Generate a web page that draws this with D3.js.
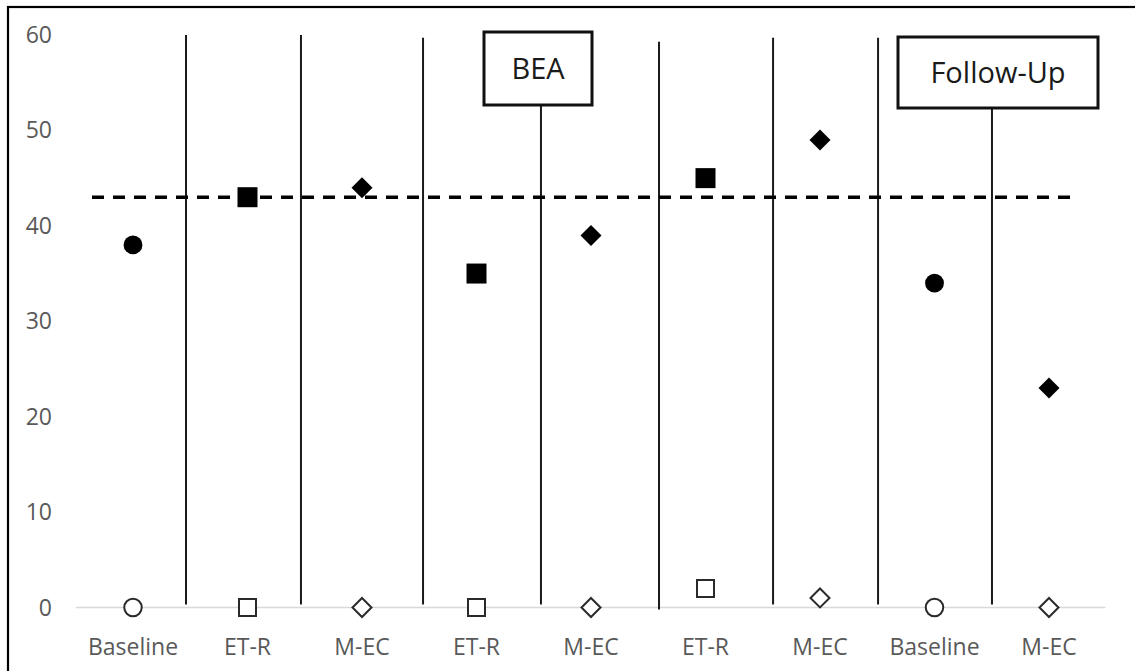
<!DOCTYPE html>
<html>
<head>
<meta charset="utf-8">
<script src="https://cdn.jsdelivr.net/npm/d3@7"></script>
<style>
  html, body { margin: 0; padding: 0; background: #fff; }
  svg { display: block; }
</style>
</head>
<body>
<svg id="chart" width="1135" height="671"></svg>
<script>
// ---- data ----
const categories = ["Baseline", "ET-R", "M-EC", "ET-R", "M-EC", "ET-R", "M-EC", "Baseline", "M-EC"];
const markerShapes = ["circle", "square", "diamond", "square", "diamond", "square", "diamond", "circle", "diamond"];
const filledValues = [38, 43, 44, 35, 39, 45, 49, 34, 23];
const openValues = [0, 0, 0, 0, 0, 2, 1, 0, 0];
const yTicks = [0, 10, 20, 30, 40, 50, 60];
const criterionValue = 43;
// phase-change lines: position in category units, top value
const phaseLinePos = [0.463, 1.467, 2.533, 3.563, 4.594, 5.59, 6.507, 7.502];
const phaseLineTop = [60, 60, 59.7, null, 59.3, 59.7, 59.7, null];
const phaseLabels = ["BEA", "Follow-Up"];

// ---- scales ----
const svg = d3.select("#chart");
const x = d3.scaleLinear().domain([0, categories.length - 1]).range([133, 1049]);
const step = x(1) - x(0);
const y = d3.scaleLinear().domain([0, 60]).range([607.5, 35]);

const font = "'Open Sans', 'Noto Sans', sans-serif";

// outer frame
svg.append("rect").attr("x", 8).attr("y", 7).attr("width", 1200).attr("height", 800)
  .attr("fill", "none").attr("stroke", "#000").attr("stroke-width", 2.2);

// y tick labels
svg.append("g").selectAll("text").data(yTicks).join("text")
  .attr("x", 52).attr("y", d => y(d)).attr("dy", "0.35em")
  .attr("text-anchor", "end").attr("font-family", font).attr("font-size", 23)
  .attr("fill", "#595959").text(d => d);

// x axis line
svg.append("line").attr("x1", x(0) - step / 2).attr("x2", x(categories.length - 1) + step / 2 - 1)
  .attr("y1", y(0)).attr("y2", y(0)).attr("stroke", "#d9d9d9").attr("stroke-width", 1.5);

// x labels
svg.append("g").selectAll("text").data(categories).join("text")
  .attr("x", (d, i) => x(i)).attr("y", 655)
  .attr("text-anchor", "middle").attr("font-family", font).attr("font-size", 23)
  .attr("fill", "#595959").text(d => d);

// boxes
const boxes = [
  { label: phaseLabels[0], x0: 484, x1: 592, y0: 32, y1: 105 },
  { label: phaseLabels[1], x0: 898, x1: 1098, y0: 37, y1: 108 }
];

// phase lines
svg.append("g").selectAll("line").data(phaseLinePos).join("line")
  .attr("x1", d => x(d)).attr("x2", d => x(d))
  .attr("y1", (d, i) => phaseLineTop[i] === null ? (i === 3 ? boxes[0].y1 : boxes[1].y1) : y(phaseLineTop[i]))
  .attr("y2", (d, i) => i === 4 ? y(0) + 2 : y(0) - 3)
  .attr("stroke", "#1a1a1a").attr("stroke-width", 2);

// dashed criterion line
svg.append("line").attr("x1", 92).attr("x2", 1072)
  .attr("y1", y(criterionValue)).attr("y2", y(criterionValue))
  .attr("stroke", "#000").attr("stroke-width", 3.5).attr("stroke-dasharray", "12,9");

const g = svg.append("g");
boxes.forEach(b => {
  g.append("rect").attr("x", b.x0).attr("y", b.y0).attr("width", b.x1 - b.x0).attr("height", b.y1 - b.y0)
    .attr("fill", "#fff").attr("stroke", "#111").attr("stroke-width", 3);
  g.append("text").attr("x", (b.x0 + b.x1) / 2).attr("y", (b.y0 + b.y1) / 2).attr("dy", "0.36em")
    .attr("text-anchor", "middle").attr("font-family", font).attr("font-size", 29)
    .attr("fill", "#1a1a1a").text(b.label);
});

// markers
function symbolFor(shape, filled) {
  if (shape === "circle") return d3.symbol(d3.symbolCircle, filled ? 280 : 240)();
  if (shape === "square") return d3.symbol(d3.symbolSquare, filled ? 400 : 289)();
  const h = filled ? 10.5 : 9.5;
  return `M0,${-h}L${h},0L0,${h}L${-h},0Z`;
}

svg.append("g").selectAll("path").data(openValues).join("path")
  .attr("transform", (d, i) => `translate(${x(i)},${y(d)})`)
  .attr("d", (d, i) => symbolFor(markerShapes[i], false))
  .attr("fill", "#fff").attr("stroke", "#2a2a2a").attr("stroke-width", 2);

svg.append("g").selectAll("path").data(filledValues).join("path")
  .attr("transform", (d, i) => `translate(${x(i)},${y(d)})`)
  .attr("d", (d, i) => symbolFor(markerShapes[i], true))
  .attr("fill", "#000");
</script>
</body>
</html>
